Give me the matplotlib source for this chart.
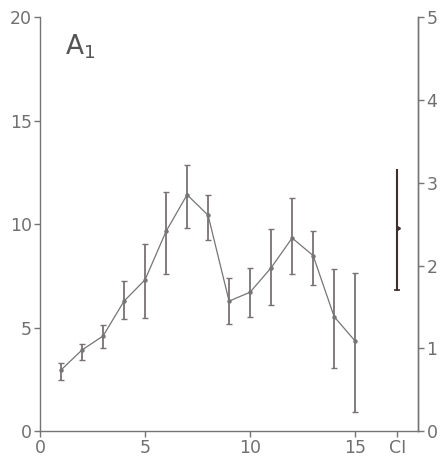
import matplotlib
matplotlib.use("Agg")
import matplotlib.pyplot as plt

# Data
x = [1, 2, 3, 4, 5, 6, 7, 8, 9, 10, 11, 12, 13, 14, 15]
mean = [2.95, 3.92, 4.59, 6.28, 7.31, 9.65, 11.42, 10.43, 6.28, 6.71, 7.89, 9.33, 8.48, 5.53, 4.35]
upper = [3.28, 4.22, 5.11, 7.24, 9.06, 11.53, 12.87, 11.42, 7.40, 7.89, 9.77, 11.26, 9.65, 7.84, 7.65]
lower = [2.46, 3.44, 4.03, 5.40, 5.48, 7.60, 9.81, 9.22, 5.16, 5.53, 6.09, 7.57, 7.08, 3.07, 0.93]

ci_x = 17.0
ci_mid = 2.45
ci_top = 3.16
ci_bot = 1.70

xticks = [0, 5, 10, 15, 17]
xticklabels = ["0", "5", "10", "15", "CI"]
yticks_left = [0, 5, 10, 15, 20]
yticks_right = [0, 1, 2, 3, 4, 5]

gray = "#757575"
txt = "#707070"
dark = "#3d2f2c"

fig = plt.figure(figsize=(4.47, 4.65), dpi=100)
ax = fig.add_axes([0.0895, 0.073, 0.846, 0.89])

yerr = [[m - l for m, l in zip(mean, lower)], [u - m for m, u in zip(mean, upper)]]
ax.errorbar(x, mean, yerr=yerr, fmt="o-", color=gray, ms=2.2, lw=0.9,
            elinewidth=1.3, capsize=2.5, capthick=1.0, ecolor="#7a7272")

ax.set_xlim(0, 18)
ax.set_ylim(0, 20)
ax.set_xticks(xticks)
ax.set_xticklabels(xticklabels)
ax.set_yticks(yticks_left)

ax.spines["top"].set_visible(False)
for s in ["left", "bottom", "right"]:
    ax.spines[s].set_color(gray)
    ax.spines[s].set_linewidth(1.0)
ax.tick_params(axis="both", direction="out", length=4, width=1.0, color=gray,
               labelcolor=txt, labelsize=12.5, pad=2)

ax2 = ax.twinx()
ax2.set_ylim(0, 5)
ax2.set_yticks(yticks_right)
for s in ["top", "left", "bottom"]:
    ax2.spines[s].set_visible(False)
ax2.spines["right"].set_color(gray)
ax2.spines["right"].set_linewidth(1.0)
ax2.tick_params(axis="y", direction="out", length=4, width=1.0, color=gray,
                labelcolor=txt, labelsize=12.5, pad=2)

# CI bar: line from bottom to top, with a bottom cap and a small mid tick
ax2.plot([ci_x, ci_x], [ci_bot, ci_top], color=dark, lw=1.5)
ax2.plot([ci_x], [ci_bot], marker="_", color=dark, ms=5, mew=1.2)
ax2.plot([ci_x], [ci_mid], marker=9, color=dark, ms=3)

ax.text(1.2, 18.2, r"A$_1$", fontsize=19, color="#555555")

fig.savefig("out.png", dpi=100)
